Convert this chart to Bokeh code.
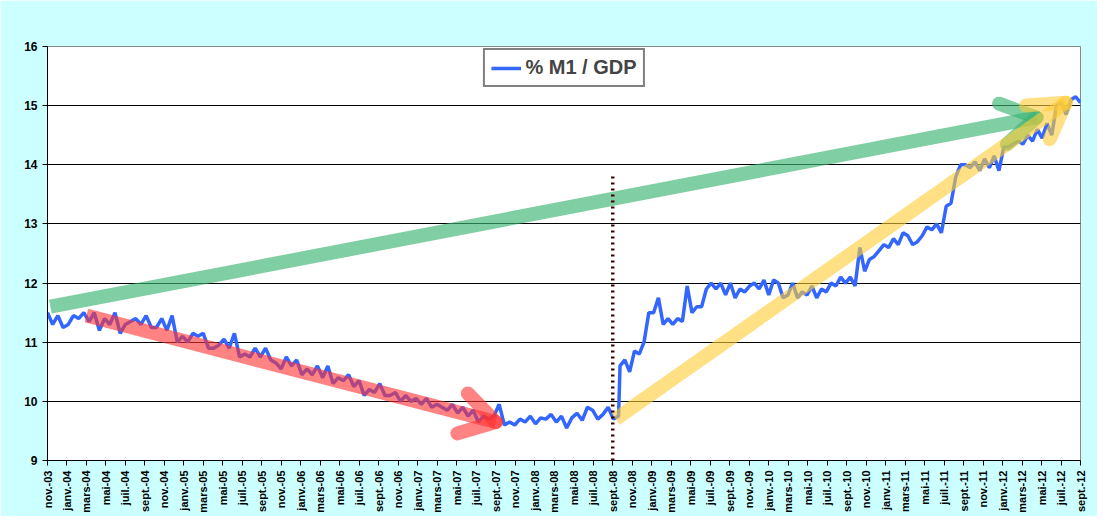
from bokeh.plotting import figure
from bokeh.models import FixedTicker, Legend, LegendItem
from bokeh.embed import file_html
from bokeh.resources import INLINE
import math

mn = ["janv.", "févr.", "mars", "avr.", "mai", "juin", "juil.", "août", "sept.", "oct.", "nov.", "déc."]
tick_pos = list(range(0, 107, 2))
month_labels = []
for t in tick_pos:
    m = (10 + t) % 12
    y = 3 + (10 + t) // 12
    month_labels.append("%s-%02d" % (mn[m], y))

# before the September 2008 break (nov-03 .. sept-08)
m1_gdp_pre = [
 11.5, 11.3, 11.45, 11.25, 11.3, 11.45, 11.4, 11.5, 11.35, 11.5, 11.2, 11.4, 11.3, 11.5, 11.15, 11.3,
 11.35, 11.4, 11.3, 11.45, 11.25, 11.25, 11.4, 11.2, 11.45, 11.0, 11.1, 11.0, 11.15, 11.1, 11.15, 10.9,
 10.9, 10.95, 11.05, 10.9, 11.15, 10.75, 10.8, 10.75, 10.9, 10.75, 10.9, 10.7, 10.65, 10.55, 10.75, 10.6,
 10.7, 10.45, 10.55, 10.45, 10.6, 10.4, 10.6, 10.3, 10.4, 10.35, 10.45, 10.25, 10.35, 10.1, 10.2, 10.15,
 10.3, 10.1, 10.1, 10.15, 10.0, 10.1, 10.0, 10.05, 9.95, 10.05, 9.9, 9.95, 9.9, 9.85, 9.95, 9.8,
 9.9, 9.75, 9.85, 9.65, 9.75, 9.7, 9.75, 9.95, 9.6, 9.65, 9.6, 9.7, 9.65, 9.75, 9.62, 9.72,
 9.7, 9.78, 9.65, 9.75, 9.55, 9.72, 9.8, 9.68, 9.9, 9.85, 9.7, 9.78, 9.9, 9.7, 9.75,
]
# after the break (sept-08 .. sept-12)
m1_gdp_post = [
 10.6, 10.7, 10.5, 10.85, 10.8, 11.0, 11.5, 11.5, 11.75, 11.3, 11.4, 11.3, 11.4, 11.35, 11.95, 11.5, 11.6,
 11.6, 11.9, 12.0, 11.9, 12.0, 11.8, 12.0, 11.75, 11.9, 11.85, 11.95, 12.0, 11.9, 12.05, 11.8, 12.05,
 12.0, 11.75, 11.8, 12.0, 11.75, 11.85, 11.8, 11.95, 11.75, 11.9, 11.85, 12.0, 11.95, 12.1, 12.0, 12.1,
 11.95, 12.6, 12.2, 12.4, 12.45, 12.55, 12.65, 12.6, 12.75, 12.65, 12.85, 12.8, 12.65, 12.7, 12.8, 12.95,
 12.9, 13.0, 12.85, 13.3, 13.35, 13.8, 14.0, 14.0, 13.95, 14.05, 13.9, 14.1, 13.95, 14.15, 13.9, 14.3,
 14.3, 14.35, 14.4, 14.35, 14.5, 14.4, 14.6, 14.45, 14.7, 14.5, 15.0, 15.05, 14.85, 15.1, 15.15, 15.05,
]
pre_span = (0.0, 58.6)
post_span = (58.75, 106.0)
x_pre = [pre_span[0] + (pre_span[1] - pre_span[0]) * i / (len(m1_gdp_pre) - 1) for i in range(len(m1_gdp_pre))]
x_post = [post_span[0] + (post_span[1] - post_span[0]) * i / (len(m1_gdp_post) - 1) for i in range(len(m1_gdp_post))]
x_idx = x_pre + x_post
m1_gdp = m1_gdp_pre + m1_gdp_post

# annotation arrows (month index, value)
green_x = [0.3, 101.5]; green_y = [11.6, 14.8]
red_x = [4.0, 46.0]; red_y = [11.45, 9.65]
yellow_x = [58.3, 104.5]; yellow_y = [9.7, 15.05]
crisis_x = [58.0, 58.0]; crisis_y = [9.0, 13.8]

p = figure(width=1097, height=516, x_range=(0, 106), y_range=(9, 16),
           output_backend="svg", toolbar_location=None,
           min_border_left=47, min_border_top=46, min_border_bottom=56, min_border_right=17)
p.background_fill_color = "white"
p.border_fill_color = "#CCFFFF"
p.outline_line_color = "#888888"
p.xgrid.visible = False
p.ygrid.grid_line_color = "black"
p.ygrid.grid_line_width = 1

p.yaxis.ticker = FixedTicker(ticks=list(range(9, 17)))
p.xaxis.ticker = FixedTicker(ticks=tick_pos)
p.xaxis.major_label_overrides = {t: l for t, l in zip(tick_pos, month_labels)}
p.xaxis.major_label_orientation = 1.5708
for ax in (p.xaxis, p.yaxis):
    ax.major_label_text_font = "Liberation Sans"
    ax.major_label_text_font_style = "bold"
    ax.major_label_text_color = "black"
    ax.axis_line_color = "black"
    ax.major_tick_line_color = "black"
    ax.minor_tick_line_color = None
    ax.major_tick_out = 5
    ax.major_tick_in = 0
p.xaxis.major_label_text_font_size = "11px"
p.yaxis.major_label_text_font_size = "12px"

line = p.line(x_idx, m1_gdp, line_color="#3366FF", line_width=3.5)

fw = 1097 - 47 - 17
fh = 516 - 46 - 56
sx = fw / 106.0
sy = fh / 7.0

def arrow(xs, ys, color, alpha, w):
    p.line(xs, ys, line_color=color, line_width=w, line_alpha=alpha, line_cap="butt")
    dx = (xs[1] - xs[0]) * sx; dy = (ys[1] - ys[0]) * sy
    ang = math.atan2(dy, dx)
    L = 40
    for da in (2.6, -2.6):
        a = ang + da
        hx = xs[1] + L * math.cos(a) / sx
        hy = ys[1] + L * math.sin(a) / sy
        p.line([xs[1], hx], [ys[1], hy], line_color=color, line_width=w, line_alpha=alpha, line_cap="round")

arrow(green_x, green_y, "#3CB371", 0.65, 14)
arrow(red_x, red_y, "#FF3030", 0.6, 14)
arrow(yellow_x, yellow_y, "#FFCC33", 0.6, 14)

p.line(crisis_x, crisis_y, line_color="#3D0000", line_width=3.5, line_dash="2 4")

leg = Legend(items=[LegendItem(label="% M1 / GDP", renderers=[line])], location="top_center",
             label_text_font="Liberation Sans", label_text_font_style="bold",
             label_text_font_size="20px", border_line_color="black", border_line_width=2,
             background_fill_color="white", glyph_width=30, padding=6, spacing=0, margin=2)
p.add_layout(leg)

open("out.html", "w").write(file_html(p, INLINE))
